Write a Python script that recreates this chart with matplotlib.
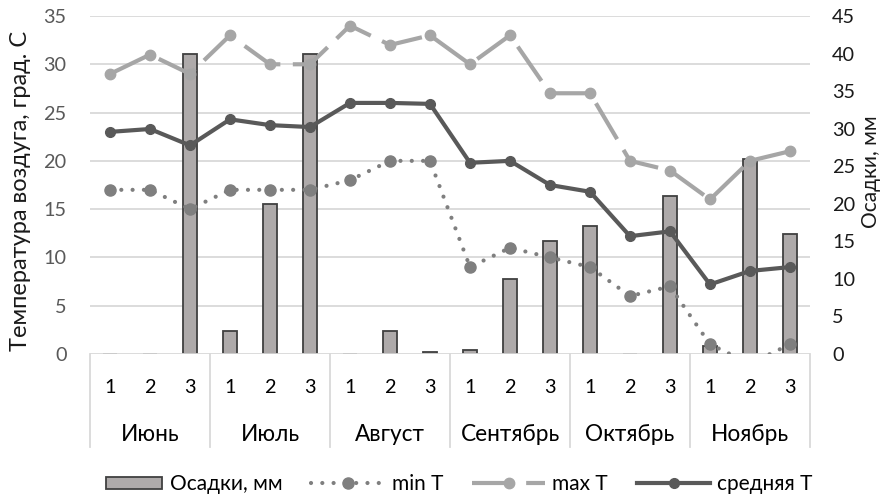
import numpy as np
import matplotlib
matplotlib.use("Agg")
import matplotlib.pyplot as plt
import matplotlib.transforms as mtransforms
from matplotlib.patches import Patch, Rectangle
from matplotlib.lines import Line2D
from matplotlib.legend_handler import HandlerPatch

plt.rcParams['font.family'] = ['Lato', 'DejaVu Sans']

# ---- data ----
months = ["Июнь", "Июль", "Август", "Сентябрь", "Октябрь", "Ноябрь"]
decades = ["1", "2", "3"]
precip = [0, 0, 40, 3, 20, 40, 0, 3, 0.3, 0.5, 10, 15, 17, 0, 21, 1, 26, 16]
t_min = [17, 17, 15, 17, 17, 17, 18, 20, 20, 9, 11, 10, 9, 6, 7, 1, -1, 1]
t_max = [29, 31, 29, 33, 30, 30, 34, 32, 33, 30, 33, 27, 27, 20, 19, 16, 20, 21]
t_mean = [23, 23.3, 21.6, 24.3, 23.7, 23.5, 26, 26, 25.9, 19.8, 20, 17.5, 16.8, 12.2, 12.7, 7.2, 8.6, 9]

temp_ticks = list(range(0, 36, 5))
precip_ticks = list(range(0, 46, 5))

C_MEAN = "#595959"
C_MAX = "#A6A6A6"
C_MIN = "#7F7F7F"
C_BAR = "#AEAAAA"
C_BAR_EDGE = "#404040"
C_GRID = "#D9D9D9"
C_TEXT = "#1A1A1A"

FS_TICK = 14.3
FS_CAT = 16.3
FS_TITLE_L = 17.0
FS_TITLE_R = 15.0
FS_LEG = 15.0

W, H = 890, 495
fig = plt.figure(figsize=(W / 100, H / 100), dpi=100)
rect = [90 / W, (H - 354) / H, 720 / W, (354 - 16) / H]

# precipitation axes (bottom layer, right scale)
ax_b = fig.add_axes(rect, zorder=1)
# temperature axes (top layer, left scale)
ax_t = fig.add_axes(rect, zorder=2)
ax_t.patch.set_visible(False)

x = np.arange(len(precip))
n = len(x)
for ax in (ax_b, ax_t):
    ax.set_xlim(-0.5, n - 0.5)
    for s in ax.spines.values():
        s.set_visible(False)
    ax.set_xticks([])

ax_b.set_ylim(0, 45)
ax_t.set_ylim(0, 35)

# horizontal gridlines follow the temperature scale
for t in temp_ticks[1:]:
    ax_b.axhline(t * 45 / 35, color=C_GRID, lw=1.3, zorder=0)
ax_b.axhline(0, color=C_GRID, lw=1.3, zorder=3)

ax_b.bar(x, precip, width=0.33, color=C_BAR, edgecolor=C_BAR_EDGE, linewidth=1.3, zorder=2)

ax_b.yaxis.tick_right()
ax_b.yaxis.set_label_position("right")
ax_b.set_yticks(precip_ticks)
ax_b.tick_params(axis='y', length=0, pad=16, labelsize=FS_TICK, labelcolor=C_TEXT)
ax_b.set_ylabel("Осадки, мм", fontsize=FS_TITLE_R, color=C_TEXT)
ax_b.yaxis.label.set_verticalalignment('center')
ax_b.yaxis.set_label_coords((871 - 90) / 720, 0.538)

ax_t.set_yticks(temp_ticks)
ax_t.tick_params(axis='y', length=0, pad=17, labelsize=FS_TICK, labelcolor="#595959")
ax_t.set_ylabel("Температура воздуга, град. С", fontsize=FS_TITLE_L, color=C_TEXT)
ax_t.yaxis.label.set_verticalalignment('center')
ax_t.yaxis.set_label_coords((21 - 90) / 720, 0.482)

LW = 3.0
min_style = dict(color=C_MIN, lw=LW, linestyle=(0, (0.01, 2.7)), dash_capstyle='round')
max_style = dict(color=C_MAX, lw=LW, linestyle=(0, (10, 3)), marker='o', ms=7.5)
mean_style = dict(color=C_MEAN, lw=LW, marker='o', ms=7)

# min T: dotted line with markers
ax_t.plot(x, t_min, zorder=3, **min_style)
ax_t.plot(x, t_min, linestyle='none', marker='o', ms=8, color=C_MIN, zorder=3)
# max T: long dashes
ax_t.plot(x, t_max, zorder=4, **max_style)
# mean T
ax_t.plot(x, t_mean, zorder=5, **mean_style)

# two-level category axis
trans = mtransforms.blended_transform_factory(ax_t.transData, ax_t.transAxes)
px_h = 354 - 16
for i in range(n):
    ax_t.text(i, -(393 - 354) / px_h, decades[i % 3], transform=trans,
              ha='center', va='baseline', fontsize=FS_TICK, color="#000000")
for m, name in enumerate(months):
    ax_t.text(3 * m + 1, -(441 - 354) / px_h, name, transform=trans,
              ha='center', va='baseline', fontsize=FS_CAT, color="#000000")
for b in range(len(months) + 1):
    xb = 3 * b - 0.5
    ax_t.plot([xb, xb], [0, -(447 - 354) / px_h], transform=trans,
              color=C_GRID, lw=1.3, clip_on=False, zorder=1)


def bar_key(legend, orig_handle, xdescent, ydescent, width, height, fontsize):
    w = width * 0.77
    return Rectangle((-xdescent + width - w, -ydescent + height * 0.1), w, height * 0.8)


handles = [
    Patch(facecolor=C_BAR, edgecolor=C_BAR_EDGE, linewidth=1.3),
    (Line2D([], [], **min_style),
     Line2D([], [], color=C_MIN, linestyle='none', marker='o', ms=8)),
    Line2D([], [], **max_style),
    Line2D([], [], **mean_style),
]
labels = ["Осадки, мм", "min T", "max T", "средняя Т"]
fig.legend(handles, labels, loc='center', bbox_to_anchor=(451 / W, 1 - 484 / H),
           ncol=4, frameon=False, fontsize=FS_LEG, handlelength=3.5,
           handletextpad=0.35, columnspacing=1.4, labelcolor="#000000",
           handler_map={Patch: HandlerPatch(patch_func=bar_key)})

fig.savefig("out.png", dpi=100)
